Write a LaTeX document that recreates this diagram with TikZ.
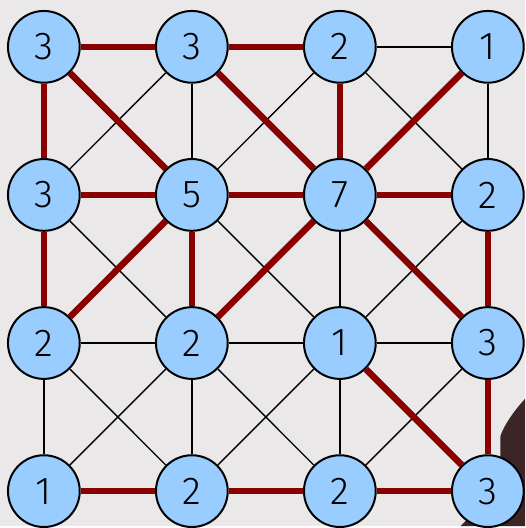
\documentclass[tikz,border=0pt]{standalone}
\usepackage{tikz}
\usepackage{xcolor}
\usepackage{fontspec}
\setsansfont{Fira Sans}[UprightFont=* Light]
\definecolor{bgcol}{HTML}{EAE8E8}
\definecolor{nodefill}{HTML}{99CCFF}
\definecolor{pathred}{HTML}{880000}
\definecolor{shadow}{HTML}{3B2526}

\begin{document}
\begin{tikzpicture}[x=1pt, y=1pt,
    cell/.style={circle, draw=black, line width=2pt, fill=nodefill,
      minimum size=72pt, inner sep=0pt, font=\fontsize{39}{39}\selectfont\sffamily},
    thin edge/.style={black, line width=1.4pt},
    red edge/.style={pathred, line width=6.5pt}]
  \fill[bgcol] (0,0) rectangle (527,528);
  \fill[shadow] (527,128) .. controls (515,115) and (505,100) .. (502,90)
    -- (502,40) -- (462,0) -- (527,0) -- cycle;
  % nodes, row by row
  \foreach \v [count=\k from 0] in {3,3,2,1,3,5,7,2,2,2,1,3,1,2,2,3} {
    \pgfmathtruncatemacro{\r}{\k/4}
    \pgfmathtruncatemacro{\c}{\k-4*\r}
    \node[cell] (n\r\c) at (44+148.5*\c, 481-148.6*\r) {\v};
  }
  % all neighbours
  \foreach \r in {0,...,3} {
    \foreach \c in {0,...,2} {
      \pgfmathtruncatemacro{\d}{\c+1}
      \draw[thin edge] (n\r\c) -- (n\r\d);
      \draw[thin edge] (n\c\r) -- (n\d\r);
    }
  }
  \foreach \r in {0,...,2} {
    \foreach \c in {0,...,2} {
      \pgfmathtruncatemacro{\s}{\r+1}
      \pgfmathtruncatemacro{\d}{\c+1}
      \draw[thin edge] (n\r\c) -- (n\s\d);
      \draw[thin edge] (n\r\d) -- (n\s\c);
    }
  }
  % chosen edges
  \foreach \a/\b in {n00/n01, n01/n02, n00/n10, n00/n11, n01/n12, n02/n12,
      n03/n12, n10/n11, n11/n12, n12/n13, n10/n20, n11/n20, n11/n21,
      n12/n21, n12/n23, n13/n23, n22/n33, n23/n33, n30/n31, n31/n32, n32/n33}
    \draw[red edge] (\a) -- (\b);
\end{tikzpicture}
\end{document}
